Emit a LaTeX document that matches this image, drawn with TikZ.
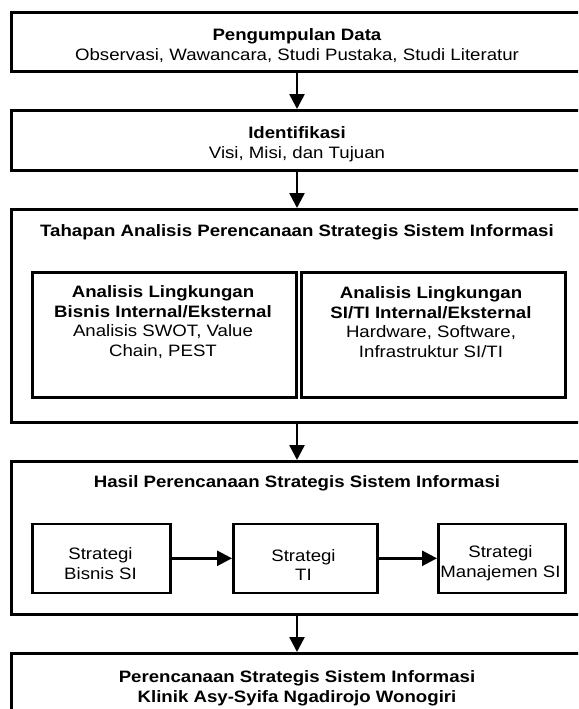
\documentclass[tikz,border=0pt]{standalone}
\usepackage{fontspec}
\setmainfont{Liberation Sans}[FakeStretch=1.13]
\usetikzlibrary{arrows.meta}
\begin{document}
\begin{tikzpicture}[x=1pt,y=-1pt,
  box/.style={draw, line width=2.6pt, inner sep=0pt, anchor=north west},
  txt/.style={align=center, inner sep=0pt, font=\fontsize{16.5}{19.7}\selectfont},
  arr/.style={line width=2.6pt, -{Triangle[length=15pt,width=15pt]}}]
\useasboundingbox (0,0) rectangle (578,709);
\clip (0,0) rectangle (578,709);
% outer boxes
\node[box, minimum width=580pt, minimum height=59pt] (b1) at (10,11) {};
\node[box, minimum width=580pt, minimum height=60pt] (b2) at (10,109) {};
\node[box, minimum width=580pt, minimum height=213pt] (b3) at (10,208) {};
\node[box, minimum width=580pt, minimum height=153pt] (b4) at (10,460) {};
\node[box, minimum width=580pt, minimum height=80pt] (b5) at (10,652) {};
% inner boxes
\node[box, minimum width=264pt, minimum height=125pt] (iL) at (31,271) {};
\node[box, minimum width=264pt, minimum height=125pt] (iR) at (300,271) {};
\node[box, minimum width=138pt, minimum height=69pt] (sa) at (31,522.5) {};
\node[box, minimum width=144pt, minimum height=69pt] (sb) at (232,522.5) {};
\node[box, minimum width=127pt, minimum height=69pt] (sc) at (437,522.5) {};
% texts
\node[txt] (t1) at (297,45.5) {\textbf{Pengumpulan Data}\\Observasi, Wawancara, Studi Pustaka, Studi Literatur};
\node[txt] (t2) at (297,144.5) {\textbf{Identifikasi}\\Visi, Misi, dan Tujuan};
\node[txt] (t3) at (297,232) {\textbf{Tahapan Analisis Perencanaan Strategis Sistem Informasi}};
\node[txt] (tL) at (163,322) {\textbf{Analisis Lingkungan}\\\textbf{Bisnis Internal/Eksternal}\\Analisis SWOT, Value\\Chain, PEST};
\node[txt] (tR) at (431,322) {\textbf{Analisis Lingkungan}\\\textbf{SI/TI Internal/Eksternal}\\Hardware, Software,\\Infrastruktur SI/TI};
\node[txt] (t4) at (297,483) {\textbf{Hasil Perencanaan Strategis Sistem Informasi}};
\node[txt] (ta) at (100.5,563.5) {Strategi\\Bisnis SI};
\node[txt] (tb) at (303.5,565) {Strategi\\TI};
\node[txt] (tc) at (500.5,563.5) {Strategi\\Manajemen SI};
\node[txt] (t5) at (297,688) {\textbf{Perencanaan Strategis Sistem Informasi}\\\textbf{Klinik Asy-Syifa Ngadirojo Wonogiri}};
% connectors
\draw[arr] (b1.south -| t1) -- (b2.north -| t1);
\draw[arr] (b2.south -| t2) -- (b3.north -| t2);
\draw[arr] (b3.south -| t3) -- (b4.north -| t3);
\draw[arr] (b4.south -| t4) -- (b5.north -| t4);
\draw[arr] (sa.east) -- (sb.west);
\draw[arr] (sb.east) -- (sc.west);
\end{tikzpicture}
\end{document}
